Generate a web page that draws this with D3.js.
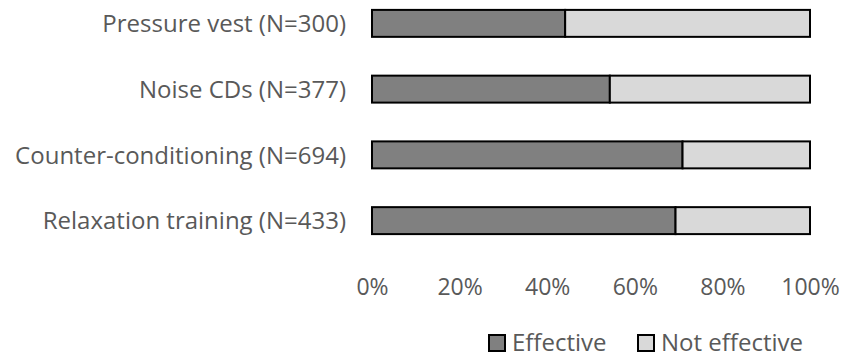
<!DOCTYPE html>
<html><head><meta charset="utf-8">
<script src="https://cdn.jsdelivr.net/npm/d3@7"></script>
<style>body{margin:0;background:#fff}</style>
</head><body>
<svg id="c" width="841" height="358"></svg>
<script>
const categories = ["Pressure vest (N=300)","Noise CDs (N=377)","Counter-conditioning (N=694)","Relaxation training (N=433)"];
const effective = [44.1, 54.3, 70.9, 69.3];
const notEffective = [55.9, 45.7, 29.1, 30.7];
const seriesNames = ["Effective","Not effective"];
const tickValues = [0,20,40,60,80,100];

const svg = d3.select("#c");
const font = "'Open Sans', sans-serif";
const textColor = "#595959";
const x = d3.scaleLinear().domain([0,100]).range([372,810]);
const y = d3.scaleBand().domain(categories).range([-9.5, 253.5]).paddingInner(0.59).paddingOuter(0.295);
const colors = ["#808080","#d9d9d9"];

const data = categories.map((c,i)=>({c, vals:[effective[i], notEffective[i]]}));
data.forEach(d=>{
  let acc=0;
  d.vals.forEach((v,j)=>{
    svg.append("rect").attr("x",x(acc)).attr("y",y(d.c)).attr("width",x(acc+v)-x(acc)).attr("height",y.bandwidth())
      .attr("fill",colors[j]).attr("stroke","#000").attr("stroke-width",2);
    acc+=v;
  });
});

const ax = svg.append("g").attr("transform","translate(0,287)")
  .call(d3.axisBottom(x).tickValues(tickValues).tickFormat(d=>d+"%").tickSize(0).tickPadding(0));
ax.select(".domain").remove();
ax.selectAll("text").attr("font-family",font).attr("font-size",23).attr("fill",textColor).attr("dy","0.35em");

const ay = svg.append("g").attr("transform","translate(346,1)")
  .call(d3.axisLeft(y).tickSize(0).tickPadding(0));
ay.select(".domain").remove();
ay.selectAll("text").attr("font-family",font).attr("font-size",24).attr("fill",textColor);

const leg = svg.append("g");
const legX = [488, 637];
seriesNames.forEach((n,i)=>{
  leg.append("rect").attr("x",legX[i]+1).attr("y",335).attr("width",16).attr("height",16).attr("fill",colors[i]).attr("stroke","#000").attr("stroke-width",2);
  leg.append("text").attr("x",legX[i]+24).attr("y",343).attr("dy","0.35em").attr("font-family",font).attr("font-size",24).attr("fill",textColor).text(n);
});
</script>
</body></html>
